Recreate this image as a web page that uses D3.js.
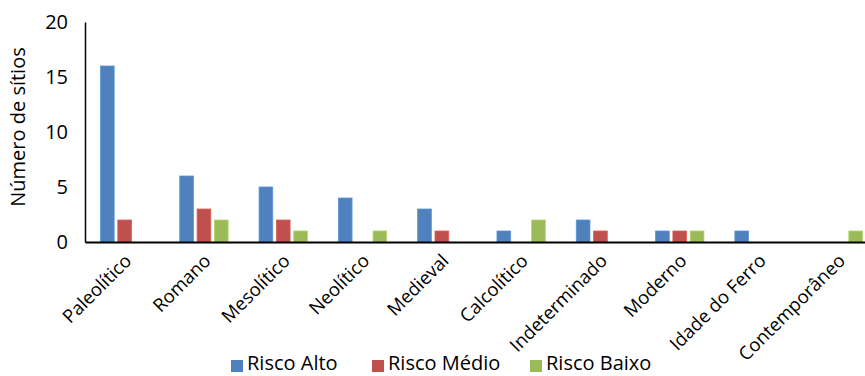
<!DOCTYPE html>
<html><head><meta charset="utf-8">
<script src="https://d3js.org/d3.v7.min.js"></script>
<style>body{margin:0;background:#fff;}svg{display:block;font-family:"Open Sans",sans-serif;}</style>
</head><body>
<svg id="c" width="865" height="376"></svg>
<script>
const categories = ["Paleolítico","Romano","Mesolítico","Neolítico","Medieval","Calcolítico","Indeterminado","Moderno","Idade do Ferro","Contemporâneo"];
const riscoAlto  = [16,6,5,4,3,1,2,1,1,0];
const riscoMedio = [2,3,2,0,1,0,1,1,0,0];
const riscoBaixo = [0,2,1,1,0,2,0,1,0,1];
const seriesNames = ["Risco Alto","Risco Médio","Risco Baixo"];
const seriesColors = ["#4F81BD","#C0504D","#9BBB59"];
const yTicks = [0,5,10,15,20];

const series = [riscoAlto, riscoMedio, riscoBaixo];
const svg = d3.select("#c");
const x0 = 85, x1 = 878, yTop = 22, yBot = 242;
const x = d3.scaleBand().domain(categories).range([x0, x1]).paddingInner(0.39).paddingOuter(0.195);
const xs = d3.scaleBand().domain(seriesNames).range([0, x.bandwidth()]).paddingInner(0.21);
const y = d3.scaleLinear().domain([0,20]).range([yBot, yTop]);

const g = svg.append("g");
categories.forEach((c, i) => {
  series.forEach((s, j) => {
    const v = s[i];
    if (v <= 0) return;
    g.append("rect")
      .attr("x", x(c) + xs(seriesNames[j]))
      .attr("y", y(v))
      .attr("width", xs.bandwidth())
      .attr("height", y(0) - y(v))
      .attr("fill", seriesColors[j])
      .attr("stroke", d3.color(seriesColors[j]).brighter(0.4))
      .attr("stroke-width", 0.8);
  });
});

// y axis
const ya = svg.append("g").attr("transform", `translate(${x0},0)`)
  .call(d3.axisLeft(y).tickValues(yTicks).tickSize(0).tickPadding(17));
ya.select(".domain").attr("stroke", "#000").attr("stroke-width", 1.5);
ya.selectAll("text").attr("font-size", 20).attr("fill", "#000").attr("font-family", "Open Sans");

// x axis
const xa = svg.append("g").attr("transform", `translate(0,${yBot})`)
  .call(d3.axisBottom(x).tickSize(0).tickPadding(0));
xa.select(".domain").attr("stroke", "#000").attr("stroke-width", 2);
xa.selectAll("text")
  .attr("font-size", 18.5).attr("fill", "#000").attr("font-family", "Open Sans")
  .attr("text-anchor", "end")
  .attr("dy", 0)
  .attr("transform", "translate(8,20) rotate(-45)");

// y title
svg.append("text").attr("transform", "translate(25,127) rotate(-90)")
  .attr("text-anchor", "middle").attr("font-size", 20).attr("fill", "#000")
  .text("Número de sítios");

// legend
const legX = [231, 372, 530];
seriesNames.forEach((n, j) => {
  svg.append("rect").attr("x", legX[j]).attr("y", 360).attr("width", 12).attr("height", 12).attr("fill", seriesColors[j]);
  svg.append("text").attr("x", legX[j] + 16).attr("y", 370).attr("font-size", 20).attr("fill", "#000").text(n);
});
</script>
</body></html>
